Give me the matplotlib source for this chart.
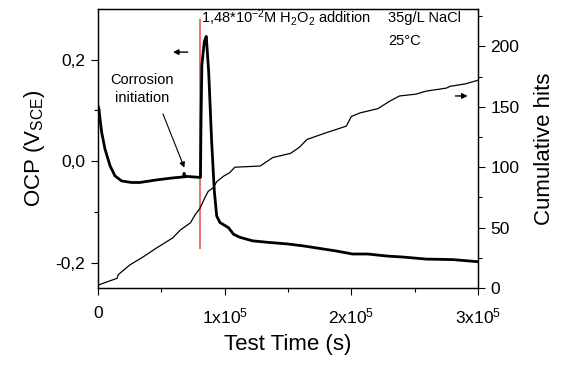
import matplotlib
matplotlib.use("Agg")
import matplotlib.pyplot as plt
from matplotlib.ticker import FixedLocator

plt.rcParams['font.family'] = ['Liberation Sans', 'DejaVu Sans']
plt.rcParams['mathtext.fontset'] = 'custom'
plt.rcParams['mathtext.rm'] = 'Liberation Sans'
plt.rcParams['mathtext.it'] = 'Liberation Sans:italic'

# OCP data (left axis)
t_ocp = [0, 0.008e5, 0.016e5, 0.029e5, 0.055e5, 0.095e5, 0.134e5, 0.187e5, 0.266e5, 0.33e5,
         0.46e5, 0.59e5, 0.675e5, 0.68e5, 0.685e5, 0.70e5, 0.805e5, 0.809e5, 0.813e5, 0.82e5,
         0.84e5, 0.855e5, 0.874e5, 0.897e5, 0.918e5, 0.937e5, 0.963e5, 1.03e5, 1.07e5, 1.12e5,
         1.22e5, 1.34e5, 1.49e5, 1.62e5, 1.75e5, 1.88e5, 2.01e5, 2.13e5, 2.28e5, 2.41e5,
         2.59e5, 2.80e5, 2.99e5]
v_ocp = [0.109, 0.102, 0.083, 0.057, 0.024, -0.009, -0.029, -0.039, -0.042, -0.042,
         -0.037, -0.033, -0.031, -0.024, -0.031, -0.030, -0.032, -0.032, 0.073, 0.190,
         0.237, 0.246, 0.175, 0.040, -0.058, -0.108, -0.121, -0.131, -0.144, -0.150,
         -0.157, -0.160, -0.163, -0.167, -0.172, -0.177, -0.183, -0.183, -0.187, -0.189,
         -0.193, -0.194, -0.198]

# Cumulative hits (right axis)
t_hits = [0, 0.016e5, 0.15e5, 0.16e5, 0.25e5, 0.36e5, 0.46e5, 0.59e5, 0.65e5, 0.73e5, 0.766e5,
          0.805e5, 0.845e5, 0.87e5, 0.91e5, 0.937e5, 0.99e5, 1.04e5, 1.08e5, 1.28e5, 1.38e5,
          1.52e5, 1.59e5, 1.65e5, 1.80e5, 1.96e5, 2.0e5, 2.07e5, 2.21e5, 2.30e5, 2.38e5,
          2.51e5, 2.59e5, 2.75e5, 2.78e5, 2.90e5, 3.0e5]
hits = [2, 3, 8, 11, 19, 26, 33, 41.5, 48, 54, 60.5,
        66, 75, 80, 83, 88, 92.5, 95.5, 100, 101, 108,
        111.5, 116.5, 123, 128.5, 134, 142, 145, 148.5, 154.5, 159,
        160.5, 163, 165.5, 167, 169, 172]

# Axis ticks / labels
x_ticks = [0, 1e5, 2e5, 3e5]
x_labels = ['0', r'1x10$^5$', r'2x10$^5$', r'3x10$^5$']
y_ticks = [-0.2, 0.0, 0.2]
y_labels = ['-0,2', '0,0', '0,2']
y2_ticks = [0, 50, 100, 150, 200]
y2_labels = ['0', '50', '100', '150', '200']

t_add = 0.805e5

fig = plt.figure(figsize=(5.61, 3.67), dpi=100)
ax = fig.add_axes([98/561, 1-288/367, (478-98)/561, (288-9)/367])
ax2 = ax.twinx()

ax.plot(t_ocp, v_ocp, color='black', lw=2.0, zorder=3)
ax.vlines(t_add, -0.173, 0.28, color='#e8787a', lw=1.5, zorder=2)
ax2.plot(t_hits, hits, color='black', lw=0.9)

ax.set_xlim(0, 3e5)
ax.set_ylim(-0.25, 0.30)
ax2.set_ylim(0, 231)

ax.xaxis.set_major_locator(FixedLocator(x_ticks))
ax.set_xticklabels(x_labels)
ax.xaxis.set_minor_locator(FixedLocator([0.5e5, 1.5e5, 2.5e5]))
ax.yaxis.set_major_locator(FixedLocator(y_ticks))
ax.set_yticklabels(y_labels)
ax.yaxis.set_minor_locator(FixedLocator([-0.1, 0.1]))
ax2.yaxis.set_major_locator(FixedLocator(y2_ticks))
ax2.set_yticklabels(y2_labels)
ax2.yaxis.set_minor_locator(FixedLocator([25, 75, 125, 175, 225]))

for a in (ax, ax2):
    a.tick_params(which='major', direction='out', length=5, width=0.8, labelsize=12.5, pad=4)
    a.tick_params(which='minor', direction='out', length=3, width=0.8)
    for s in a.spines.values():
        s.set_linewidth(0.9)
ax.tick_params(axis='x', which='both', top=False)
ax.tick_params(axis='x', pad=8)

ax.set_xlabel('Test Time (s)', fontsize=16, labelpad=6)
ax.set_ylabel(r'OCP (V$_{\mathrm{SCE}}$)', fontsize=16, labelpad=6)
ax2.set_ylabel('Cumulative hits', fontsize=16, labelpad=10)

ax.text(0.81e5, 0.283, r'1,48*10$^{-2}$M H$_2$O$_2$ addition', fontsize=10.5, va='center', ha='left')
ax.text(2.29e5, 0.283, '35g/L NaCl', fontsize=10.5, va='center', ha='left')
ax.text(2.29e5, 0.237, '25°C', fontsize=10.5, va='center', ha='left')
ax.text(0.35e5, 0.16, 'Corrosion', fontsize=10.5, va='center', ha='center')
ax.text(0.35e5, 0.125, 'initiation', fontsize=10.5, va='center', ha='center')
ax.annotate('', xy=(0.69e5, -0.018), xytext=(0.505e5, 0.098),
            arrowprops=dict(arrowstyle='-|>', color='black', lw=0.8, mutation_scale=8))
ax.annotate('', xy=(0.57e5, 0.215), xytext=(0.73e5, 0.215),
            arrowprops=dict(arrowstyle='-|>', color='black', lw=1.0, mutation_scale=8))
ax2.annotate('', xy=(2.94e5, 159), xytext=(2.80e5, 159),
             arrowprops=dict(arrowstyle='-|>', color='black', lw=1.0, mutation_scale=8))

fig.savefig('out.png', dpi=100)
